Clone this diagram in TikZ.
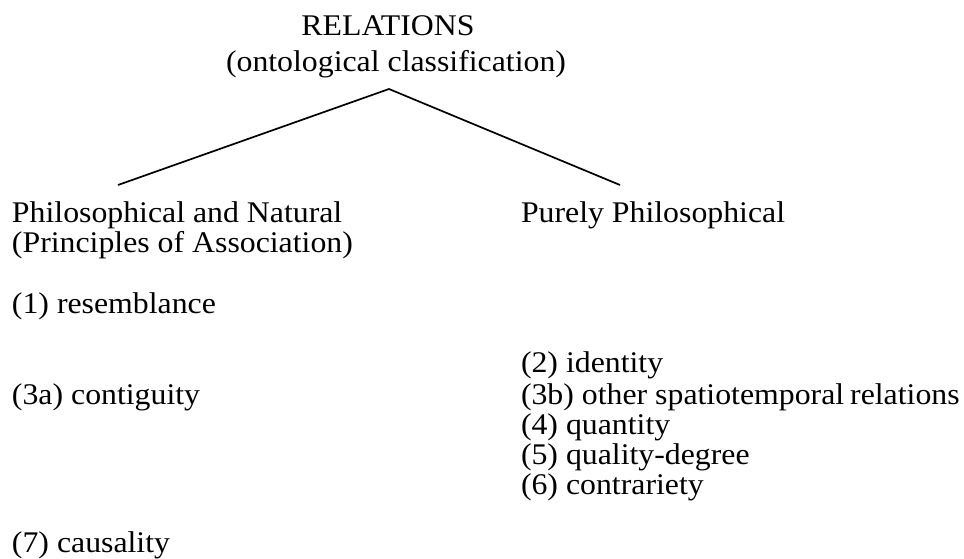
\documentclass[tikz,border=0pt]{standalone}
\usepackage{fontspec}
\setmainfont{Liberation Serif}[FakeStretch=1.06]
\begin{document}
\begin{tikzpicture}[x=1pt,y=1pt,
  txt/.style={inner sep=0pt,outer sep=0pt,font=\fontsize{30}{30}\selectfont},
  lft/.style={txt,anchor=base west},
  ctr/.style={txt,anchor=base},
  branch/.style={line width=1.7pt,black}]
\useasboundingbox (0,0) rectangle (964,-558);
% title
\node[ctr] (title) at (388,-35) {RELATIONS};
\node[ctr] (sub) at (396,-71) {(ontological classification)};
% branch points
\coordinate (apex) at (389,-89);
\coordinate (lend) at (118,-185);
\coordinate (rend) at (620,-185);
\draw[branch] (lend) -- (apex) -- (rend);
% left column
\node[lft] (pn1) at (12,-222) {Philosophical and Natural};
\node[lft] (pn2) at (12,-252) {(Principles of Association)};
\node[lft] (r1) at (12,-313) {(1) resemblance};
\node[lft] (r3a) at (12,-404) {(3a) contiguity};
\node[lft] (r7) at (12,-552) {(7) causality};
% right column
\node[lft] (pp) at (521,-222) {Purely Philosophical};
\node[lft] (r2) at (521,-372) {(2) identity};
\node[lft] (r3b) at (521,-404) {(3b) other spatiotemporal\kern-2pt\ relations};
\node[lft] (r4) at (521,-434) {(4) quantity};
\node[lft] (r5) at (521,-464) {(5) quality-degree};
\node[lft] (r6) at (521,-494) {(6) contrariety};
\end{tikzpicture}
\end{document}
